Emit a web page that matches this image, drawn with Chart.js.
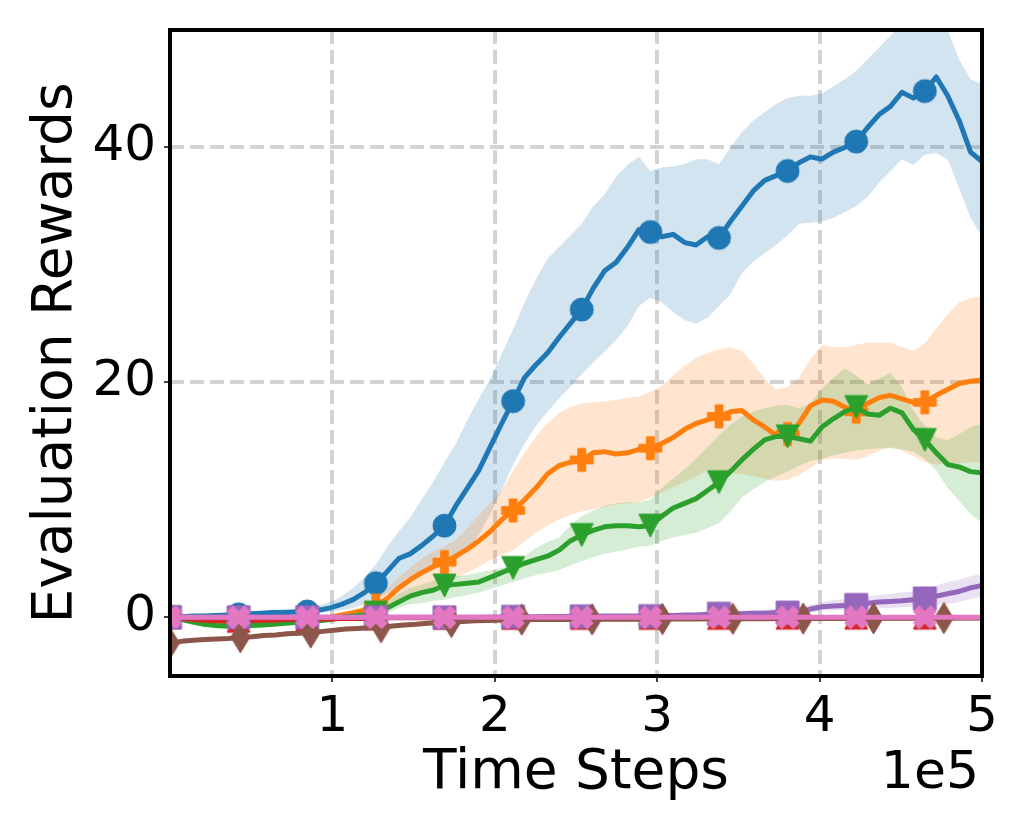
<!DOCTYPE html>
<html>
<head>
<meta charset="utf-8">
<script src="https://cdn.jsdelivr.net/npm/chart.js@4/dist/chart.umd.min.js"></script>
<style>
  html, body { margin: 0; padding: 0; background: #fff; }
</style>
</head>
<body>
<canvas id="myChart" width="1029" height="830"></canvas>
<script>
// evaluation checkpoints (time steps)
const steps = Array.from({ length: 72 }, (_, i) => Math.round(i * 500000 / 71));
const brownSteps = Array.from({ length: 70 }, (_, i) => i * 7220);

const xTicks = [100000, 200000, 300000, 400000, 500000];
const yTicks = [0, 20, 40];

const blueMean = [0, 0.05, 0.1, 0.1, 0.15, 0.2, 0.25, 0.3, 0.35, 0.4,
  0.4, 0.45, 0.5, 0.6, 0.8, 1.1, 1.5, 2.1, 2.9, 3.9,
  5.0, 5.4, 6.1, 6.9, 7.8, 9.5, 11.0, 12.5, 14.5, 16.5,
  18.4, 20.4, 21.5, 22.5, 23.8, 25.0, 26.2, 28.0, 29.5, 30.2,
  31.5, 33.0, 32.8, 32.4, 32.6, 31.9, 31.7, 32.4, 32.3, 33.7,
  35.0, 36.3, 37.2, 37.6, 38.0, 38.7, 39.2, 39.0, 39.6, 40.0,
  40.5, 41.7, 42.8, 43.5, 44.7, 44.2, 44.8, 46.0, 44.4, 42.3,
  39.6, 38.8];
const blueHi = [0.1, 0.15, 0.2, 0.25, 0.3, 0.35, 0.4, 0.45, 0.55, 0.6,
  0.7, 0.75, 0.8, 1.0, 1.3, 1.8, 2.5, 3.4, 4.5, 6.0,
  7.3, 8.5, 10.0, 11.5, 13.2, 14.8, 16.8, 18.6, 20.3, 22.4,
  24.5, 26.8, 28.8, 30.5, 31.5, 32.5, 33.5, 35.0, 36.0, 37.5,
  38.5, 39.2, 38.0, 38.3, 38.4, 38.6, 39.0, 39.0, 38.6, 40.0,
  41.3, 42.3, 43.0, 43.7, 44.2, 44.4, 44.4, 44.6, 45.2, 45.8,
  46.5, 47.5, 48.5, 49.5, 50.5, 51, 51, 51, 50.0, 47.5,
  45.8, 45.4];
const blueLo = [-0.1, -0.05, 0, 0, 0.05, 0.05, 0.1, 0.15, 0.2, 0.2,
  0.25, 0.25, 0.3, 0.4, 0.5, 0.6, 0.8, 1.1, 1.5, 2.0,
  2.5, 3.0, 3.5, 4.0, 4.5, 5.0, 5.7, 7.0, 8.8, 10.8,
  13.0, 14.8, 16.3, 17.5, 18.6, 19.6, 20.7, 21.7, 22.6, 23.6,
  24.8, 26.5, 27.2, 26.8, 26.0, 25.3, 25.0, 25.5, 26.5, 27.5,
  29.3, 30.3, 31.0, 31.7, 32.5, 33.5, 33.6, 33.7, 34.0, 34.5,
  35.0, 35.8, 37.0, 38.0, 39.0, 38.5, 39.4, 39.5, 39.0, 36.5,
  34.0, 32.4];

const orangeMean = [0, -0.1, -0.2, -0.3, -0.35, -0.4, -0.4, -0.35, -0.3, -0.3,
  -0.25, -0.2, -0.15, -0.1, 0, 0.2, 0.4, 0.6, 1.0, 1.6,
  2.5, 3.2, 3.8, 4.3, 4.7, 5.2, 5.8, 6.5, 7.3, 8.3,
  9.1, 10.0, 11.0, 12.2, 12.9, 13.2, 13.4, 14.0, 14.1, 13.9,
  14.0, 14.3, 14.4, 14.8, 15.3, 16.0, 16.5, 16.8, 17.1, 17.5,
  17.6, 16.8, 16.2, 15.5, 15.6, 16.5, 18.0, 18.5, 18.4, 17.9,
  17.5, 18.2, 18.7, 18.9, 18.6, 18.3, 18.3, 18.9, 19.4, 19.9,
  20.1, 20.2];
const orangeHi = [0, 0, -0.05, -0.1, -0.15, -0.2, -0.2, -0.15, -0.1, -0.1,
  -0.05, 0, 0, 0.05, 0.1, 0.3, 0.6, 1.0, 1.6, 2.5,
  3.4, 4.2, 5.0, 5.6, 6.0, 6.6, 7.6, 8.7, 9.7, 10.8,
  12.5, 14.0, 15.4, 16.5, 17.4, 17.9, 18.2, 18.3, 18.4, 18.5,
  18.7, 18.8, 19.2, 19.7, 20.6, 21.4, 22.1, 22.5, 22.8, 23.0,
  22.7, 21.6, 20.3, 19.4, 19.6, 20.4, 22.0, 23.2, 23.0, 23.0,
  23.2, 23.4, 23.4, 23.4, 23.0, 22.7, 23.3, 24.6, 25.8, 26.8,
  27.2, 27.3];
const orangeLo = [0, -0.2, -0.35, -0.45, -0.5, -0.55, -0.6, -0.55, -0.5, -0.45,
  -0.4, -0.35, -0.3, -0.25, -0.2, -0.1, 0.1, 0.3, 0.5, 0.9,
  1.3, 1.7, 2.1, 2.5, 2.9, 3.3, 3.8, 4.3, 4.9, 5.3,
  5.7, 6.4, 7.2, 7.8, 8.3, 8.7, 9.0, 9.2, 9.4, 9.6,
  9.7, 9.8, 10.2, 10.6, 11.1, 11.5, 12.0, 12.5, 12.4, 12.3,
  12.2, 12.0, 11.8, 11.6, 11.7, 12.1, 12.7, 13.4, 13.5, 13.5,
  13.4, 13.7, 14.2, 14.5, 14.2, 13.7, 13.2, 13.0, 13.1, 13.1,
  13.2, 13.2];

const greenMean = [0, -0.2, -0.4, -0.6, -0.7, -0.75, -0.75, -0.7, -0.65, -0.6,
  -0.5, -0.45, -0.4, -0.3, -0.2, 0, 0.1, 0.2, 0.4, 0.8,
  1.3, 1.8, 2.1, 2.3, 2.7, 2.8, 2.9, 3.0, 3.4, 3.8,
  4.2, 4.6, 4.9, 5.2, 5.7, 6.5, 7.0, 7.4, 7.7, 7.8,
  7.8, 7.7, 7.8, 8.6, 9.3, 9.7, 10.1, 10.8, 11.5, 12.4,
  13.4, 14.3, 15.1, 15.4, 15.4, 15.2, 15.0, 16.2, 16.9, 17.5,
  17.9, 17.3, 17.2, 17.8, 17.4, 16.0, 15.1, 14.0, 13.0, 12.8,
  12.4, 12.3];
const greenHi = [0, -0.1, -0.2, -0.35, -0.45, -0.5, -0.5, -0.45, -0.4, -0.35,
  -0.3, -0.25, -0.2, -0.1, 0, 0.1, 0.3, 0.5, 0.8, 1.3,
  2.0, 2.5, 2.8, 3.1, 3.4, 3.5, 3.6, 3.8, 4.0, 4.2,
  4.5, 5.2, 5.9, 6.4, 6.8, 7.8, 8.6, 9.1, 9.5, 9.7,
  9.8, 9.8, 10.0, 11.0, 11.8, 12.6, 13.5, 14.5, 15.5, 16.4,
  17.1, 17.5, 17.8, 18.0, 18.1, 17.8, 18.2, 19.5, 20.4, 21.2,
  20.6, 19.8, 20.3, 20.8, 19.6, 17.6, 16.3, 15.3, 15.1, 15.6,
  16.2, 16.5];
const greenLo = [0, -0.3, -0.6, -0.8, -0.95, -1.0, -1.0, -0.95, -0.9, -0.8,
  -0.7, -0.65, -0.6, -0.5, -0.4, -0.2, -0.1, 0, 0, 0.3,
  0.8, 1.1, 1.2, 1.4, 1.5, 1.7, 1.9, 2.1, 2.4, 2.7,
  3.0, 3.3, 3.6, 3.8, 4.0, 4.4, 4.8, 5.1, 5.4, 5.6,
  5.8, 6.0, 6.1, 6.5, 6.8, 7.0, 7.2, 7.6, 8.0, 9.0,
  10.2, 10.9, 11.5, 12.0, 12.4, 12.9, 13.3, 13.5, 13.8, 14.0,
  14.2, 14.3, 14.4, 14.4, 14.3, 14.1, 13.5, 12.5, 11.0, 9.9,
  8.8, 8.0];

const redMean = [0, -0.1, -0.2, -0.25, -0.3, -0.3, -0.3, -0.3, -0.25, -0.25,
  -0.2, -0.2, -0.2, -0.15, -0.15, -0.1, -0.1, -0.1, -0.1, -0.05,
  -0.05, -0.05, -0.05, -0.05, -0.05, -0.05, -0.05, -0.05, -0.05, -0.05,
  -0.05, -0.05, -0.05, -0.05, -0.05, -0.05, -0.05, -0.05, -0.05, -0.05,
  -0.05, -0.05, -0.05, -0.05, -0.05, -0.05, -0.05, -0.05, -0.05, -0.05,
  -0.03, -0.03, -0.03, -0.03, -0.03, -0.03, -0.03, -0.03, -0.03, -0.03,
  -0.03, -0.03, -0.03, -0.03, -0.03, -0.03, -0.03, -0.03, -0.03, -0.03,
  -0.03, -0.03];

const purpleMean = [0, 0, 0, 0, 0, 0, 0, 0, 0, 0,
  0, 0, 0, 0, 0, 0, 0, 0, 0, 0,
  0, 0, 0, 0, 0, 0, 0, 0, 0.02, 0.03,
  0.04, 0.05, 0.05, 0.06, 0.07, 0.08, 0.08, 0.09, 0.1, 0.1,
  0.1, 0.1, 0.1, 0.15, 0.15, 0.2, 0.2, 0.25, 0.3, 0.3,
  0.3, 0.35, 0.35, 0.4, 0.4, 0.45, 0.7, 0.9, 0.95, 1.0,
  1.05, 1.2, 1.3, 1.35, 1.4, 1.5, 1.6, 1.8, 2.0, 2.2,
  2.5, 2.7];
const purpleHi = [0, 0, 0, 0, 0, 0, 0, 0, 0, 0,
  0, 0, 0, 0, 0, 0, 0, 0, 0, 0,
  0.02, 0.02, 0.03, 0.03, 0.04, 0.04, 0.05, 0.05, 0.07, 0.08,
  0.1, 0.11, 0.12, 0.13, 0.14, 0.16, 0.17, 0.18, 0.2, 0.2,
  0.22, 0.22, 0.24, 0.3, 0.32, 0.38, 0.4, 0.45, 0.52, 0.55,
  0.57, 0.62, 0.65, 0.72, 0.75, 0.8, 1.05, 1.3, 1.45, 1.55,
  1.65, 1.8, 1.9, 2.0, 2.1, 2.2, 2.4, 2.7, 3.0, 3.2,
  3.5, 3.7];
const purpleLo = [0, 0, 0, 0, 0, 0, 0, 0, 0, 0,
  0, 0, 0, 0, 0, 0, 0, 0, 0, 0,
  -0.02, -0.02, -0.03, -0.03, -0.04, -0.04, -0.05, -0.05, -0.03, -0.02,
  -0.02, -0.01, -0.02, -0.01, 0, 0, 0, 0, 0, 0,
  0, 0, 0, 0, 0, 0.02, 0.02, 0.05, 0.08, 0.08,
  0.05, 0.1, 0.1, 0.12, 0.12, 0.15, 0.4, 0.55, 0.6, 0.65,
  0.7, 0.75, 0.8, 0.8, 0.85, 0.9, 0.95, 1.05, 1.15, 1.3,
  1.55, 1.75];

const brownMean = [-2.2, -2.05, -1.95, -1.9, -1.85, -1.8, -1.7, -1.65, -1.55, -1.5,
  -1.4, -1.35, -1.3, -1.2, -1.1, -1.0, -0.95, -0.9, -0.85, -0.75,
  -0.65, -0.6, -0.5, -0.45, -0.4, -0.35, -0.3, -0.28, -0.25, -0.22,
  -0.2, -0.2, -0.2, -0.19, -0.19, -0.18, -0.18, -0.17, -0.17, -0.16,
  -0.16, -0.15, -0.15, -0.15, -0.14, -0.14, -0.13, -0.13, -0.13, -0.12,
  -0.12, -0.12, -0.11, -0.11, -0.11, -0.1, -0.1, -0.1, -0.1, -0.09,
  -0.09, -0.09, -0.08, -0.08, -0.08, -0.08, -0.07, -0.07, -0.07, -0.07];

const pinkMean = [0, 0, 0, 0, 0, 0, 0, 0, 0, 0,
  0, 0, 0, 0, 0, 0, 0, 0, 0, 0,
  0, 0, 0, 0, 0, 0, 0, 0, 0, 0,
  0, 0, 0, 0, 0, 0, 0, 0, 0, 0,
  0, 0, 0, 0, 0, 0, 0, 0, 0, 0,
  0, 0, 0, 0, 0, 0, 0, 0, 0, 0,
  0, 0, 0, 0, 0, 0, 0, 0, 0, 0,
  0, 0];

const X_TITLE = 'Time Steps';
const Y_TITLE = 'Evaluation Rewards';
const OFFSET_TEXT = '1e5';

const FONT = 'DejaVu Sans';
const GRID = '#d3d3d3';
const MARK_EVERY = 6;
const MARKER = 23;

// matplotlib-like filled markers drawn into small canvases
function makeMarker(shape, color, size) {
  const c = document.createElement('canvas');
  const dim = Math.ceil(size * 1.6) + 4;
  c.width = dim;
  c.height = dim;
  const g = c.getContext('2d');
  g.translate(dim / 2, dim / 2);
  g.fillStyle = color;
  g.strokeStyle = color;
  g.lineWidth = 1;
  const h = size / 2;
  let pts = null;
  g.beginPath();
  if (shape === 'circle') {
    g.arc(0, 0, h, 0, Math.PI * 2);
  } else {
    if (shape === 'square') pts = [[-h, -h], [h, -h], [h, h], [-h, h]];
    if (shape === 'tri-down') pts = [[0, h], [-h, -h], [h, -h]];
    if (shape === 'tri-up') pts = [[0, -h], [-h, h], [h, h]];
    if (shape === 'thin-diamond') pts = [[0, -0.68 * size], [0.41 * size, 0], [0, 0.68 * size], [-0.41 * size, 0]];
    if (shape === 'plus') {
      const t = size / 6;
      pts = [[-t, -h], [t, -h], [t, -t], [h, -t], [h, t], [t, t], [t, h], [-t, h], [-t, t], [-h, t], [-h, -t], [-t, -t]];
    }
    if (shape === 'x') {
      const q = size / 4;
      pts = [[-1, -2], [0, -1], [1, -2], [2, -1], [1, 0], [2, 1], [1, 2], [0, 1], [-1, 2], [-2, 1], [-1, 0], [-2, -1]]
        .map(p => [p[0] * q, p[1] * q]);
    }
    pts.forEach((p, i) => (i ? g.lineTo(p[0], p[1]) : g.moveTo(p[0], p[1])));
    g.closePath();
  }
  g.fill();
  g.stroke();
  return c;
}

function toPoints(xs, ys) {
  return xs.map((x, i) => ({ x: x, y: ys[i] }));
}

function lineSet(xs, ys, color, shape, order) {
  return {
    data: toPoints(xs, ys),
    borderColor: color,
    backgroundColor: color,
    borderWidth: 5,
    borderJoinStyle: 'round',
    borderCapStyle: 'round',
    pointStyle: makeMarker(shape, color, MARKER),
    pointRadius: ctx => (ctx.dataIndex % MARK_EVERY === 0 ? 1 : 0),
    fill: false,
    tension: 0,
    clip: 0,
    order: order
  };
}

function bandSets(xs, hi, lo, rgba, order) {
  return [
    { data: toPoints(xs, hi), borderWidth: 0, pointRadius: 0, fill: '+1', backgroundColor: rgba, clip: 0, order: order },
    { data: toPoints(xs, lo), borderWidth: 0, pointRadius: 0, fill: false, backgroundColor: rgba, clip: 0, order: order }
  ];
}

const datasets = [].concat(
  bandSets(steps, blueHi, blueLo, 'rgba(31,119,180,0.2)', 54),
  bandSets(steps, orangeHi, orangeLo, 'rgba(255,127,14,0.2)', 53),
  bandSets(steps, greenHi, greenLo, 'rgba(44,160,44,0.2)', 52),
  bandSets(steps, purpleHi, purpleLo, 'rgba(148,103,189,0.2)', 51),
  [
    lineSet(steps, blueMean, '#1f77b4', 'circle', 7),
    lineSet(steps, orangeMean, '#ff7f0e', 'plus', 6),
    lineSet(steps, greenMean, '#2ca02c', 'tri-down', 5),
    lineSet(steps, redMean, '#d62728', 'tri-up', 4),
    lineSet(steps, purpleMean, '#9467bd', 'square', 3),
    lineSet(brownSteps, brownMean, '#8c564b', 'thin-diamond', 2),
    lineSet(steps, pinkMean, '#e377c2', 'x', 1)
  ]
);

// frame around the plot area plus axis titles and the 1e5 offset label
const frameAndText = {
  id: 'frameAndText',
  afterDraw(chart) {
    const ctx = chart.ctx;
    const a = chart.chartArea;
    ctx.save();
    ctx.strokeStyle = '#000';
    ctx.lineWidth = 4;
    ctx.strokeRect(a.left, a.top, a.right - a.left, a.bottom - a.top);
    ctx.fillStyle = '#000';
    ctx.textBaseline = 'alphabetic';
    ctx.font = '55px "' + FONT + '"';
    ctx.textAlign = 'center';
    ctx.fillText(X_TITLE, (a.left + a.right) / 2, 788);
    ctx.font = '52px "' + FONT + '"';
    ctx.textAlign = 'right';
    ctx.fillText(OFFSET_TEXT, a.right - 3, 788);
    ctx.font = '55px "' + FONT + '"';
    ctx.translate(71, (a.top + a.bottom) / 2);
    ctx.rotate(-Math.PI / 2);
    ctx.textAlign = 'center';
    ctx.fillText(Y_TITLE, 0, 0);
    ctx.restore();
  }
};

const tickFont = { family: FONT, size: 50 };
const gridOpts = { color: GRID, lineWidth: 4, tickLength: 6, tickColor: '#000', tickWidth: 1.5 };

new Chart(document.getElementById('myChart'), {
  type: 'line',
  data: { datasets: datasets },
  plugins: [frameAndText],
  options: {
    responsive: false,
    animation: false,
    devicePixelRatio: 1,
    events: [],
    layout: { padding: { top: 30, right: 47, left: 0, bottom: 0 } },
    plugins: { legend: { display: false }, tooltip: { enabled: false } },
    scales: {
      x: {
        type: 'linear',
        min: 0,
        max: 500000,
        afterBuildTicks: s => { s.ticks = xTicks.map(v => ({ value: v })); },
        afterFit: s => { s.height = 154; s.paddingLeft = 0; s.paddingRight = 0; },
        grid: gridOpts,
        border: { display: false, dash: [14, 6] },
        ticks: {
          font: tickFont, color: '#000', padding: 6, maxRotation: 0, autoSkip: false,
          callback: v => String(v / 100000)
        }
      },
      y: {
        min: -5,
        max: 50,
        afterBuildTicks: s => { s.ticks = yTicks.map(v => ({ value: v })); },
        afterFit: s => { s.width = 170; s.paddingTop = 0; s.paddingBottom = 0; },
        grid: gridOpts,
        border: { display: false, dash: [14, 6] },
        ticks: { font: tickFont, color: '#000', padding: 8, callback: v => String(v) }
      }
    }
  }
});
</script>
</body>
</html>
